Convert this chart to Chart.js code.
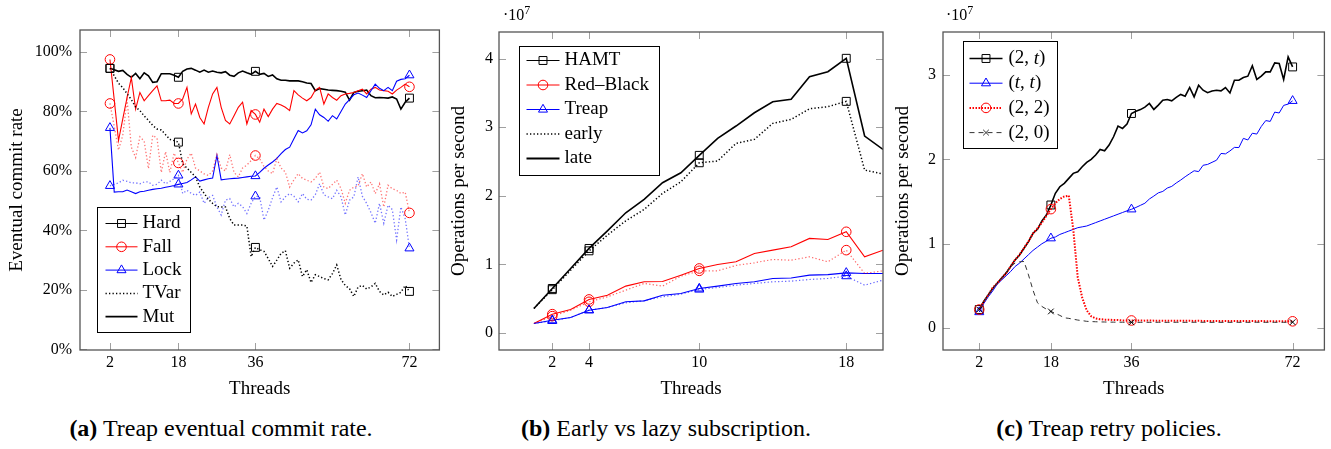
<!DOCTYPE html>
<html>
<head>
<meta charset="utf-8">
<script src="https://cdn.jsdelivr.net/npm/chart.js@4.4.1/dist/chart.umd.min.js"></script>
<style>
  body { margin: 0; background: #fff; width: 1331px; height: 449px; position: relative; overflow: hidden;
         font-family: 'Liberation Serif', 'Times New Roman', 'DejaVu Serif', serif; color: #000; }
  canvas { position: absolute; top: 0; }
  .cap { position: absolute; top: 414px; font-size: 24px; line-height: 28px; white-space: nowrap; transform: translateX(-50%); }
  .mult { position: absolute; top: 7px; font-size: 16px; line-height: 16px; }
  .mult sup { font-size: 12px; vertical-align: 6px; line-height: 0; }
  .prime { position: absolute; left: -200px; top: -50px; font-size: 16px; }
</style>
</head>
<body>
<span class="prime">Aa <i>t</i></span>
<canvas id="chartA" width="446" height="400" style="left:0px"></canvas>
<canvas id="chartB" width="448" height="400" style="left:442px"></canvas>
<canvas id="chartC" width="445" height="400" style="left:886px"></canvas>
<div class="mult" style="left:503px">·10<sup>7</sup></div>
<div class="mult" style="left:946px">·10<sup>7</sup></div>
<div class="cap" style="left:221px"><b>(a)</b> Treap eventual commit rate.</div>
<div class="cap" style="left:666px"><b>(b)</b> Early vs lazy subscription.</div>
<div class="cap" style="left:1109px"><b>(c)</b> Treap retry policies.</div>
<script>
/* số luồng (trục x) */
const threads = [2, 3, 4, 5, 6, 7, 8, 9, 10, 11, 12, 13, 14, 15, 16, 17, 18, 19, 20, 21, 22, 23, 24, 25, 26,
  27, 28, 29, 30, 31, 32, 33, 34, 35, 36, 37, 38, 39, 40, 41, 42, 43, 44, 45, 46, 47, 48, 49, 50, 51, 52,
  53, 54, 55, 56, 57, 58, 59, 60, 61, 62, 63, 64, 65, 66, 67, 68, 69, 70, 71, 72];
const threadsB = [1, 2, 3, 4, 5, 6, 7, 8, 9, 10, 11, 12, 13, 14, 15, 16, 17, 18, 19, 20];

const ticksA = [2, 18, 36, 72];
const ticksB = [2, 4, 10, 18];
const ticksC = [2, 18, 36, 72];
const yTicksA = [0, 20, 40, 60, 80, 100];
const yTicksB = [0, 1, 2, 3, 4];
const yTicksC = [0, 1, 2, 3];

/* (a) eventual commit rate, % */
const hardMut = [94.5, 94.0, 93.5, 93.8, 92.5, 91.5, 92.8, 91.0, 93.0, 92.0, 89.8, 90.0, 92.7, 92.7, 92.7, 92.2, 91.5,
  93.5, 94.3, 94.5, 93.9, 93.2, 93.9, 93.2, 93.6, 93.2, 93.0, 93.4, 92.2, 91.8, 93.0, 93.6, 93.0, 92.5, 93.5,
  92.5, 92.8, 91.8, 92.3, 91.0, 90.5, 90.5, 90.3, 90.3, 90.3, 90.0, 89.6, 89.4, 87.0, 87.7, 87.5, 87.2, 87.1,
  87.0, 86.8, 86.5, 83.8, 86.4, 86.8, 87.0, 87.2, 85.3, 84.6, 84.7, 84.6, 84.5, 84.9, 84.2, 80.8, 83.1, 84.5];
const fallMut = [97.5, 84, 70.2, 77.5, 84.7, 91.4, 80.8, 86.4, 83.6, 85.3, 87.0, 88.6, 83.6, 83.6, 83.8, 82.7, 82.7,
  84.2, 88.1, 79.2, 82.5, 78.0, 75.8, 81.4, 85.9, 88.1, 81.4, 77.0, 75.8, 78.6, 81.4, 83.1, 75.8, 80.3, 79.0,
  76.4, 80.8, 78.3, 80.8, 82.7, 82.2, 81.4, 80.3, 87.0, 85.6, 84.5, 83.6, 84.7, 87.2, 88.1, 82.5, 85.9, 84.7,
  83.8, 85.3, 85.9, 86.1, 86.4, 87.0, 87.5, 85.9, 87.5, 88.1, 87.2, 87.0, 86.8, 85.9, 87.2, 88.1, 89.2, 88.3];
const lockMut = [74.5, 52.9, 53.0, 53.0, 53.6, 53.0, 52.4, 53.0, 53.2, 53.5, 53.8, 54.0, 54.2, 54.5, 54.8, 55.1, 55.5,
  55.8, 56.1, 57.0, 58.0, 56.6, 57.0, 57.4, 57.6, 65.2, 57.0, 57.2, 57.4, 57.5, 57.6, 57.8, 58.0, 58.2, 58.3,
  59.5, 60.9, 62.0, 63.0, 64.2, 65.8, 67.2, 68.0, 70.8, 73.6, 72.8, 73.5, 75.5, 80.8, 78.9, 78.0, 76.7, 78.6,
  77.5, 80.0, 82.5, 84.0, 85.6, 86.2, 85.5, 84.7, 87.0, 89.2, 87.8, 87.0, 88.1, 87.0, 90.2, 90.8, 91.0, 92.2];
const hardTVar = [94.5, 92.0, 89.5, 88.0, 86.0, 84.0, 81.5, 80.3, 78.5, 77.0, 75.3, 74.1, 73.8, 72.2, 70.6, 70.2, 69.7,
  62.4, 61.0, 59.5, 58.0, 54.6, 52.5, 50.5, 49.1, 48.0, 47.9, 47.9, 44.0, 41.8, 41.8, 41.8, 41.5, 31.2, 34.3,
  33.5, 33.0, 30.5, 27.9, 30.0, 32.3, 33.2, 27.3, 29.0, 30.1, 24.5, 26.8, 22.5, 25.1, 24.5, 23.8, 23.4, 25.5,
  28.4, 23.5, 21.5, 20.4, 17.8, 21.0, 21.5, 20.3, 21.0, 22.2, 19.5, 18.3, 19.2, 17.8, 18.5, 19.2, 21.5, 19.5];
const fallTVar = [82.7, 75, 67, 72, 84, 68, 64.5, 71.5, 70, 60.8, 72, 71, 59.5, 66.5, 59.5, 66, 62.7,
  59.5, 64, 66, 61, 60, 59, 58.5, 60, 65.5, 61, 60, 65.5, 59.5, 58, 61, 62, 63.5, 65.2,
  64.1, 61.5, 60.0, 59.1, 64.1, 61.0, 59.6, 54.6, 57.0, 59.1, 57.5, 56.9, 56.3, 57.5, 59.6, 54.6, 54.1, 55.5,
  56.9, 54.1, 49.1, 53.5, 54.6, 55.0, 59.1, 54.6, 56.3, 52.4, 55.7, 47.9, 55.2, 54.0, 53.5, 52.4, 52.9, 45.9];
const lockTVar = [55.0, 55.5, 56.0, 56.9, 56.5, 56.0, 56.0, 55.7, 56.3, 56.3, 55.2, 55.5, 56.9, 55.7, 56.5, 57.4, 58.5,
  52.4, 53.5, 52.5, 51.8, 52.9, 49.1, 51.0, 51.8, 47.9, 45.2, 50.2, 50.7, 47.9, 49.1, 48.0, 45.7, 49.1, 51.5,
  51.3, 43.5, 46.8, 51.0, 54.6, 49.6, 51.3, 52.4, 51.5, 49.6, 52.4, 50.5, 50.2, 52.0, 55.7, 52.0, 51.3, 50.7,
  53.5, 51.3, 45.2, 50.2, 51.3, 58.0, 51.5, 49.1, 46.0, 42.4, 49.1, 42.4, 48.5, 47.0, 36.8, 47.9, 44.0, 34.0];

/* (b) operations per second, x 10^7 */
const hamtLate = [0.356, 0.648, 0.94, 1.232, 1.489, 1.752, 1.947, 2.19, 2.336, 2.59, 2.838, 3.018, 3.212, 3.372,
  3.407, 3.737, 3.81, 4.006, 2.872, 2.677];
const hamtEarly = [0.356, 0.63, 0.915, 1.197, 1.426, 1.635, 1.801, 2.035, 2.204, 2.482, 2.507, 2.765, 2.823, 3.057,
  3.115, 3.27, 3.30, 3.378, 2.375, 2.317];
const rbLate = [0.137, 0.273, 0.342, 0.488, 0.55, 0.682, 0.745, 0.75, 0.842, 0.94, 0.998, 1.037, 1.159, 1.207,
  1.256, 1.378, 1.363, 1.475, 1.11, 1.207];
const rbEarly = [0.137, 0.244, 0.33, 0.453, 0.526, 0.623, 0.721, 0.682, 0.828, 0.905, 0.905, 0.984, 1.022, 1.071,
  1.06, 1.11, 1.037, 1.207, 0.867, 0.905];
const treapLate = [0.137, 0.185, 0.225, 0.331, 0.371, 0.453, 0.467, 0.55, 0.575, 0.648, 0.682, 0.721, 0.745, 0.794,
  0.80, 0.842, 0.85, 0.876, 0.867, 0.867];
const treapEarly = [0.137, 0.175, 0.225, 0.331, 0.371, 0.438, 0.47, 0.526, 0.565, 0.633, 0.662, 0.696, 0.721, 0.745,
  0.755, 0.779, 0.794, 0.828, 0.696, 0.769];

/* (c) retry policies, x 10^7 */
const retry2t = [0.22, 0.315, 0.394, 0.47, 0.532, 0.592, 0.651, 0.73, 0.808, 0.867, 0.947, 1.025, 1.124, 1.171, 1.27,
  1.341, 1.459, 1.598, 1.676, 1.716, 1.775, 1.834, 1.853, 1.912, 1.964, 2.0, 2.051, 2.118, 2.102, 2.169, 2.268,
  2.394, 2.367, 2.418, 2.544,
  2.57, 2.59, 2.62, 2.663, 2.592, 2.643, 2.70, 2.71, 2.694, 2.734, 2.77, 2.749, 2.852, 2.741, 2.879, 2.82, 2.79,
  2.81, 2.82, 2.812, 2.852, 2.788, 2.938, 2.938, 2.97, 2.986, 3.11, 2.947, 2.986, 3.037, 3.037, 3.143, 3.136,
  2.947, 3.214, 3.096];
const retryTt = [0.19, 0.29, 0.37, 0.44, 0.52, 0.57, 0.62, 0.67, 0.73, 0.77, 0.82, 0.87, 0.92, 0.96, 1.0, 1.03,
  1.065, 1.08, 1.11, 1.13, 1.15, 1.17, 1.19, 1.2, 1.21, 1.23, 1.25, 1.27, 1.29, 1.31, 1.33, 1.35, 1.37, 1.39, 1.408,
  1.43, 1.455, 1.48, 1.53, 1.565, 1.603, 1.62, 1.66, 1.68, 1.72, 1.755, 1.794, 1.83, 1.865, 1.855, 1.93, 1.94,
  1.965, 1.99, 2.07, 2.065, 2.10, 2.142, 2.14, 2.249, 2.23, 2.31, 2.3, 2.39, 2.46, 2.45, 2.56, 2.55, 2.64, 2.655,
  2.694];
const retry22 = [0.22, 0.31, 0.39, 0.48, 0.53, 0.59, 0.65, 0.73, 0.81, 0.87, 0.95, 1.03, 1.12, 1.18, 1.25, 1.33,
  1.41, 1.48, 1.53, 1.56, 1.57, 1.17, 0.60, 0.36, 0.21, 0.14, 0.115, 0.105, 0.10, 0.10, 0.095, 0.095, 0.09, 0.09,
  0.09,
  0.09, 0.09, 0.088, 0.09, 0.088, 0.088, 0.087, 0.088, 0.087, 0.086, 0.087, 0.086, 0.086, 0.085, 0.086, 0.085,
  0.085, 0.085, 0.084, 0.085, 0.084, 0.084, 0.083, 0.084, 0.083, 0.083, 0.083, 0.082, 0.083, 0.082, 0.082, 0.082,
  0.081, 0.082, 0.081, 0.08];
const retry20 = [0.22, 0.31, 0.39, 0.47, 0.53, 0.59, 0.66, 0.73, 0.77, 0.785, 0.79, 0.63, 0.45, 0.30, 0.256, 0.224,
  0.197, 0.174, 0.15, 0.122, 0.115, 0.105, 0.095, 0.088, 0.08, 0.077, 0.075, 0.073, 0.072, 0.071, 0.07, 0.07,
  0.069, 0.068, 0.068,
  0.068, 0.068, 0.069, 0.068, 0.068, 0.069, 0.068, 0.068, 0.068, 0.069, 0.068, 0.068, 0.068, 0.069, 0.068, 0.069,
  0.068, 0.068, 0.069, 0.068, 0.068, 0.068, 0.069, 0.068, 0.069, 0.068, 0.068, 0.069, 0.068, 0.068, 0.069, 0.068,
  0.069, 0.068, 0.069, 0.07];

const FONT = "'Liberation Serif', 'Times New Roman', 'DejaVu Serif', serif";
const RED = '#ff0000', BLUE = '#0000ff', BLACK = '#000000';
const DOT = [1.3, 2.2];

/*Vẽ một ký hiệu điểm (dùng cho chú thích)*/
function drawMarker(ctx, style, x, y, color, r) {
  ctx.save();
  ctx.strokeStyle = color;
  ctx.lineWidth = 1;
  ctx.setLineDash([]);
  ctx.beginPath();
  if (style === 'rect') {
    const s = r * Math.SQRT1_2;
    ctx.rect(x - s, y - s, 2 * s, 2 * s);
  } else if (style === 'circle') {
    ctx.arc(x, y, r, 0, 2 * Math.PI);
  } else if (style === 'triangle') {
    for (let k = 0; k < 3; k++) {
      const a = k * 2 * Math.PI / 3;
      const px = x + Math.sin(a) * r, py = y - Math.cos(a) * r;
      if (k === 0) ctx.moveTo(px, py); else ctx.lineTo(px, py);
    }
    ctx.closePath();
  } else if (style === 'crossRot') {
    const o = r * Math.SQRT1_2;
    ctx.moveTo(x - o, y - o); ctx.lineTo(x + o, y + o);
    ctx.moveTo(x - o, y + o); ctx.lineTo(x + o, y - o);
  }
  ctx.stroke();
  ctx.restore();
}

/*Khung trục và vạch chia kiểu pgfplots*/
function framePlugin(xt, yt) {
  return {
    id: 'frame',
    afterDatasetsDraw(chart) {
      const { ctx, chartArea: a, scales } = chart;
      const len = 7;
      ctx.save();
      ctx.strokeStyle = '#a0a0a0';
      ctx.lineWidth = 1;
      ctx.beginPath();
      xt.forEach(v => {
        const p = Math.round(scales.x.getPixelForValue(v)) + 0.5;
        ctx.moveTo(p, a.bottom); ctx.lineTo(p, a.bottom - len);
        ctx.moveTo(p, a.top); ctx.lineTo(p, a.top + len);
      });
      yt.forEach(v => {
        const p = Math.round(scales.y.getPixelForValue(v)) + 0.5;
        ctx.moveTo(a.left, p); ctx.lineTo(a.left + len, p);
        ctx.moveTo(a.right, p); ctx.lineTo(a.right - len, p);
      });
      ctx.stroke();
      ctx.strokeStyle = '#555';
      ctx.lineWidth = 1.3;
      ctx.strokeRect(a.left, a.top, a.right - a.left, a.bottom - a.top);
      ctx.restore();
    }
  };
}

/*Chú thích có khung, đặt bên trong vùng vẽ*/
function legendPlugin(cfg) {
  return {
    id: 'boxLegend',
    afterDatasetsDraw(chart) {
      const { ctx, chartArea } = chart;
      const x0 = Math.round(chartArea.left + cfg.x) + 0.5, y0 = Math.round(chartArea.top + cfg.y) + 0.5;
      ctx.save();
      ctx.fillStyle = '#fff';
      ctx.fillRect(x0, y0, cfg.w, cfg.h);
      ctx.strokeStyle = '#000';
      ctx.lineWidth = 1;
      ctx.strokeRect(x0, y0, cfg.w, cfg.h);
      cfg.items.forEach((it, i) => {
        const y = y0 + cfg.first + i * cfg.step;
        ctx.save();
        ctx.strokeStyle = it.color;
        ctx.lineWidth = it.width;
        ctx.setLineDash(it.dash || []);
        ctx.beginPath();
        ctx.moveTo(x0 + cfg.l1, y);
        ctx.lineTo(x0 + cfg.l2, y);
        ctx.stroke();
        ctx.restore();
        if (it.marker) drawMarker(ctx, it.marker, x0 + (cfg.l1 + cfg.l2) / 2, y, it.markColor || it.color, it.r);
        let tx = x0 + cfg.tx;
        ctx.fillStyle = '#000';
        ctx.textBaseline = 'middle';
        it.label.forEach(part => {
          ctx.font = (part.i ? 'italic ' : '') + cfg.size + 'px ' + FONT;
          ctx.fillText(part.t, tx, y);
          tx += ctx.measureText(part.t).width;
        });
      });
      ctx.restore();
    }
  };
}

function points(xs, ys) {
  return xs.map((x, i) => ({ x: x, y: ys[i] }));
}

function line(xs, ys, marks, o) {
  return {
    data: points(xs, ys),
    borderColor: o.color,
    borderWidth: o.width,
    borderDash: o.dash || [],
    borderCapStyle: 'butt',
    pointStyle: o.marker,
    pointBorderColor: o.markColor || o.color,
    pointBackgroundColor: 'rgba(0,0,0,0)',
    pointBorderWidth: 1,
    pointRadius: ctx => (ctx.raw && marks.includes(ctx.raw.x)) ? o.r : 0,
    tension: 0,
    fill: false,
  };
}

function axes(o) {
  const tickFont = { family: FONT, size: 16 };
  const titleFont = { family: FONT, size: 19 };
  return {
    x: {
      type: 'linear', min: o.xmin, max: o.xmax,
      afterBuildTicks: s => { s.ticks = o.xt.map(v => ({ value: v })); },
      ticks: { font: tickFont, color: '#000', padding: 3, autoSkip: false, maxRotation: 0, callback: v => String(v) },
      grid: { display: false, drawTicks: false },
      border: { display: false },
      title: { display: true, text: 'Threads', font: titleFont, color: '#000', padding: { top: 0, bottom: 0 } },
      afterFit: s => { s.height = 50; }
    },
    y: {
      type: 'linear', min: o.ymin, max: o.ymax,
      afterBuildTicks: s => { s.ticks = o.yt.map(v => ({ value: v })); },
      ticks: { font: tickFont, color: '#000', padding: o.ypad, callback: o.yfmt },
      grid: { display: false, drawTicks: false },
      border: { display: false },
      title: { display: true, text: o.ytitle, font: titleFont, color: '#000', padding: { top: 6, bottom: 0 } },
      afterFit: s => { s.width = o.yw; }
    }
  };
}

function baseOptions(pad, scales) {
  return {
    responsive: false,
    animation: false,
    layout: { padding: pad },
    plugins: { legend: { display: false }, tooltip: { enabled: false } },
    scales: scales,
  };
}

const charts = [];

/*Biểu đồ (a): tỉ lệ commit*/
const legendA = {
  x: 17, y: 177, w: 93, h: 125, first: 16, step: 23.3, l1: 8, l2: 40, tx: 45, size: 19,
  items: [
    { label: [{ t: 'Hard' }], color: BLACK, width: 1, marker: 'rect', r: 5.6 },
    { label: [{ t: 'Fall' }], color: RED, width: 1, marker: 'circle', r: 4.8 },
    { label: [{ t: 'Lock' }], color: BLUE, width: 1, marker: 'triangle', r: 5.2 },
    { label: [{ t: 'TVar' }], color: BLACK, width: 1.5, dash: DOT },
    { label: [{ t: 'Mut' }], color: BLACK, width: 1.8 },
  ]
};
charts.push(new Chart(document.getElementById('chartA').getContext('2d'), {
  type: 'line',
  data: {
    datasets: [
      line(threads, lockTVar, ticksA, { color: 'rgba(0,0,255,0.55)', markColor: BLUE, width: 1.3, dash: DOT, marker: 'triangle', r: 5.2 }),
      line(threads, fallTVar, ticksA, { color: 'rgba(255,0,0,0.55)', markColor: RED, width: 1.3, dash: DOT, marker: 'circle', r: 4.8 }),
      line(threads, hardTVar, ticksA, { color: BLACK, width: 1.5, dash: DOT, marker: 'rect', r: 5.6 }),
      line(threads, lockMut, ticksA, { color: BLUE, width: 1.1, marker: 'triangle', r: 5.2 }),
      line(threads, fallMut, ticksA, { color: RED, width: 1.1, marker: 'circle', r: 4.8 }),
      line(threads, hardMut, ticksA, { color: BLACK, width: 1.6, marker: 'rect', r: 5.6 }),
    ]
  },
  options: baseOptions({ top: 30, right: 6, left: 0, bottom: 0 }, axes({
    xmin: -5, xmax: 79, xt: ticksA, ymin: -0.2, ymax: 107.4, yt: yTicksA, ypad: 8, yw: 80,
    yfmt: v => v + '%', ytitle: 'Eventual commit rate'
  })),
  plugins: [framePlugin(ticksA, yTicksA), legendPlugin(legendA)]
}));

/*Biểu đồ (b): đăng ký sớm và muộn*/
const legendB = {
  x: 19.7, y: 14.3, w: 140, h: 129, first: 14, step: 24.5, l1: 7, l2: 40, tx: 45, size: 19,
  items: [
    { label: [{ t: 'HAMT' }], color: BLACK, width: 1, marker: 'rect', r: 5.6 },
    { label: [{ t: 'Red\u2013Black' }], color: RED, width: 1, marker: 'circle', r: 4.8 },
    { label: [{ t: 'Treap' }], color: BLUE, width: 1, marker: 'triangle', r: 5.2 },
    { label: [{ t: 'early' }], color: BLACK, width: 1.5, dash: DOT },
    { label: [{ t: 'late' }], color: BLACK, width: 1.8 },
  ]
};
charts.push(new Chart(document.getElementById('chartB').getContext('2d'), {
  type: 'line',
  data: {
    datasets: [
      line(threadsB, treapEarly, ticksB, { color: 'rgba(0,0,255,0.6)', markColor: BLUE, width: 1.2, dash: DOT, marker: 'triangle', r: 5.2 }),
      line(threadsB, rbEarly, ticksB, { color: 'rgba(255,0,0,0.6)', markColor: RED, width: 1.2, dash: DOT, marker: 'circle', r: 4.8 }),
      line(threadsB, hamtEarly, ticksB, { color: BLACK, width: 1.5, dash: DOT, marker: 'rect', r: 5.6 }),
      line(threadsB, treapLate, ticksB, { color: BLUE, width: 1.1, marker: 'triangle', r: 5.2 }),
      line(threadsB, rbLate, ticksB, { color: RED, width: 1.1, marker: 'circle', r: 4.8 }),
      line(threadsB, hamtLate, ticksB, { color: BLACK, width: 1.6, marker: 'rect', r: 5.6 }),
    ]
  },
  options: baseOptions({ top: 32, right: 7, left: 0, bottom: 0 }, axes({
    xmin: -0.9, xmax: 20, xt: ticksB, ymin: -0.25, ymax: 4.39, yt: yTicksB, ypad: 6, yw: 57,
    yfmt: v => String(v), ytitle: 'Operations per second'
  })),
  plugins: [framePlugin(ticksB, yTicksB), legendPlugin(legendB)]
}));

/*Biểu đồ (c): chính sách thử lại*/
const legendC = {
  x: 20.3, y: 9.3, w: 94, h: 107, first: 17, step: 24.7, l1: 6, l2: 39, tx: 45, size: 19,
  items: [
    { label: [{ t: '(2, ' }, { t: 't', i: true }, { t: ')' }], color: BLACK, width: 1.4, marker: 'rect', r: 5.6 },
    { label: [{ t: '(' }, { t: 't', i: true }, { t: ', ' }, { t: 't', i: true }, { t: ')' }], color: BLUE, width: 1, marker: 'triangle', r: 5.2 },
    { label: [{ t: '(2, 2)' }], color: RED, width: 2, dash: [1.5, 1.5], marker: 'circle', r: 4.8 },
    { label: [{ t: '(2, 0)' }], color: '#333', width: 1, dash: [5, 4], marker: 'crossRot', r: 4 },
  ]
};
charts.push(new Chart(document.getElementById('chartC').getContext('2d'), {
  type: 'line',
  data: {
    datasets: [
      line(threads, retry20, ticksC, { color: '#333', markColor: BLACK, width: 1, dash: [5, 4], marker: 'crossRot', r: 4 }),
      line(threads, retry22, ticksC, { color: RED, width: 2, dash: [1.5, 1.5], marker: 'circle', r: 4.8 }),
      line(threads, retryTt, ticksC, { color: BLUE, width: 1, marker: 'triangle', r: 5.2 }),
      line(threads, retry2t, ticksC, { color: BLACK, width: 1.6, marker: 'rect', r: 5.6 }),
    ]
  },
  options: baseOptions({ top: 32, right: 4, left: 0, bottom: 0 }, axes({
    xmin: -6.1, xmax: 79.1, xt: ticksC, ymin: -0.26, ymax: 3.51, yt: yTicksC, ypad: 7, yw: 57,
    yfmt: v => String(v), ytitle: 'Operations per second'
  })),
  plugins: [framePlugin(ticksC, yTicksC), legendPlugin(legendC)]
}));

/* vẽ lại khi phông chữ đã sẵn sàng */
Promise.all([
  document.fonts.load("16px 'Liberation Serif'"),
  document.fonts.load("italic 16px 'Liberation Serif'")
]).then(() => charts.forEach(c => c.update('none'))).catch(() => {});
</script>
</body>
</html>
